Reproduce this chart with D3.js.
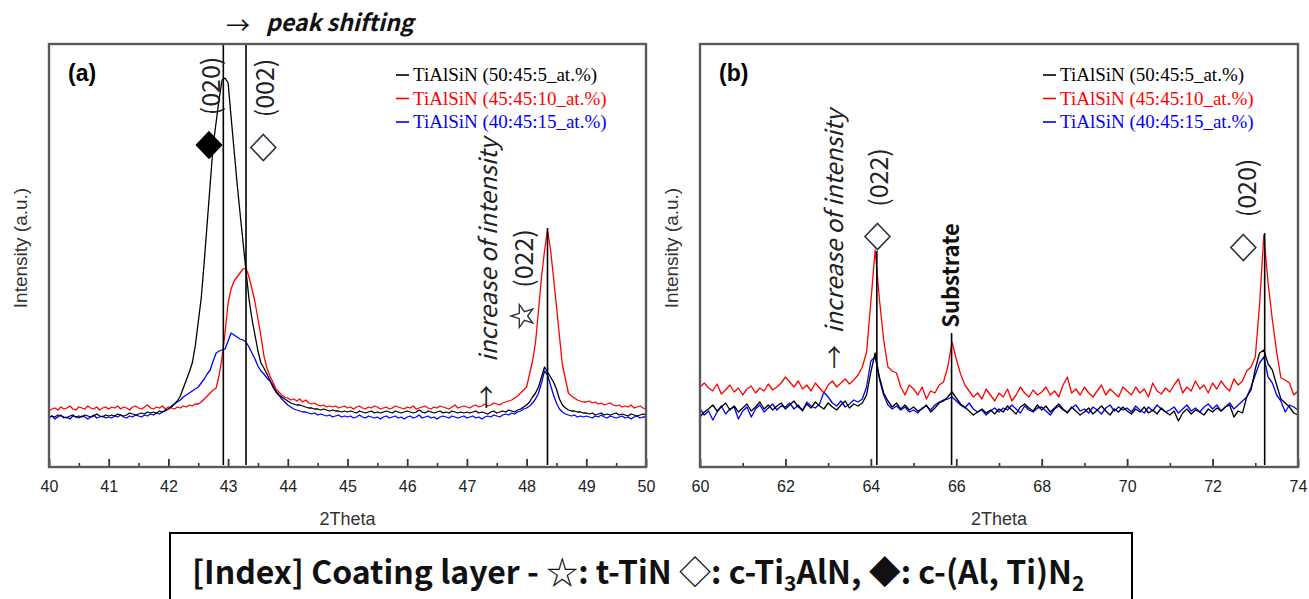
<!DOCTYPE html>
<html>
<head>
<meta charset="utf-8">
<script src="https://cdn.jsdelivr.net/npm/d3@7/dist/d3.min.js"></script>
<style>
  html, body { margin: 0; padding: 0; background: #fff; }
  svg { display: block; }
</style>
</head>
<body>
<svg id="chart" width="1309" height="599"></svg>
<script>
// XRD of TiAlSiN coatings: (a) 40–50° and (b) 60–74° 2θ, intensity in a.u.
const legendLabels = ["TiAlSiN (50:45:5_at.%)", "TiAlSiN (45:45:10_at.%)", "TiAlSiN (40:45:15_at.%)"];
const seriesColors = ["#000000", "#ff0000", "#0000ff"];

// (a) sampled every 0.05° from 40.00 to 50.00
const aStart = 40, aStep = 0.05;
const aBlack = [
  50,51,50,52,51,50,49,51,52,50,51,50,52,51,50,51,53,51,50,52,
  51,52,51,53,52,51,52,54,53,52,53,54,53,55,54,55,54,56,55,57,
  58,60,63,66,71,79,87,95,104,121,145,169,205,244,283,322,345,368,387,389,
  384,350,317,284,254,225,196,168,148,132,116,104,99,93,87,80,75,72,70,68,
  66,64,63,62,62,61,60,59,59,58,58,57,58,57,56,57,56,56,55,56,
  55,56,55,54,56,55,54,55,56,54,55,54,55,56,55,54,56,55,54,55,
  56,55,54,55,57,55,54,56,55,54,55,56,54,55,54,56,55,54,55,54,
  55,54,55,56,54,55,54,53,55,56,54,55,56,55,57,56,55,57,58,60,
  62,65,70,74,80,90,100,95,90,85,78,68,62,59,57,56,56,55,55,54,
  54,53,54,52,53,54,52,53,52,53,54,52,53,52,51,53,52,51,52,53,
  52
];
const aRed = [
  56,58,59,57,60,58,59,61,58,57,60,59,58,61,59,58,60,57,59,60,
  58,60,59,61,58,60,59,57,60,61,59,58,60,62,59,58,60,59,61,58,
  60,59,58,60,59,61,60,62,61,63,63,65,68,71,74,77,79,92,110,135,
  164,178,186,190,194,198,199,190,178,165,148,131,111,99,91,85,78,75,72,70,
  69,67,68,66,68,65,67,64,63,64,62,61,62,60,61,60,61,59,60,61,
  59,60,58,60,61,59,58,60,59,61,60,58,59,60,58,59,61,60,59,58,
  60,59,61,58,59,60,61,59,58,60,59,61,60,59,58,60,62,59,60,61,
  60,59,61,62,60,61,63,61,62,64,63,62,64,65,66,67,69,71,74,77,
  80,93,106,125,157,190,216,237,218,190,161,131,102,88,74,71,69,67,66,65,
  65,66,64,65,63,64,62,63,64,62,61,62,60,61,60,62,59,60,61,59,
  58
];
const aBlue = [
  49,51,48,50,52,49,50,48,51,50,49,51,50,48,50,52,49,50,51,49,
  50,49,51,50,52,50,49,51,50,52,51,50,52,51,53,52,54,53,55,56,
  58,61,63,65,67,70,72,74,76,78,80,84,88,93,97,106,114,116,117,118,
  126,134,132,130,128,127,125,120,114,108,101,96,93,89,86,82,76,72,68,65,
  62,60,58,57,56,55,55,54,53,54,52,53,52,51,52,50,51,52,50,51,
  50,51,49,50,52,50,49,51,50,49,50,48,50,51,49,50,51,49,50,48,
  50,51,49,50,52,49,50,51,49,50,48,50,51,50,49,51,50,49,50,51,
  49,50,51,49,50,48,50,51,50,52,51,50,52,53,52,54,53,55,56,58,
  59,61,64,68,74,84,96,92,82,72,64,58,55,53,52,51,52,50,51,50,
  51,50,49,51,50,52,50,49,51,50,49,50,51,49,50,48,50,51,49,50,
  50
];

// (b) sampled every 0.1° from 60.0 to 74.0
const bStart = 60, bStep = 0.1;
const bBlack = [
  50,55,58,62,56,60,64,57,61,55,
  59,63,56,60,65,58,62,57,61,64,
  58,62,66,60,57,63,59,65,61,58,
  64,60,57,62,66,59,63,61,64,72,
  95,114,90,74,66,60,64,58,62,57,
  60,56,58,62,55,59,64,66,70,75,
  69,63,60,56,52,55,58,54,57,53,
  58,55,61,57,53,60,63,59,56,62,
  57,61,55,59,63,58,54,60,56,52,
  55,59,53,57,61,56,52,58,55,60,
  56,53,58,55,60,54,57,53,59,55,
  52,56,46,54,58,53,57,55,52,58,
  55,59,56,60,62,50,56,54,70,77,
  98,114,117,103,97,82,68,64,60,54,
  52
];
const bRed = [
  80,84,79,76,83,73,77,82,75,79,
  72,78,81,74,79,76,83,77,80,84,
  90,85,80,86,78,82,76,84,79,74,
  82,86,80,84,88,83,87,92,100,115,
  165,217,168,127,100,96,94,80,72,82,
  78,72,80,68,76,74,82,85,100,125,
  108,93,82,76,70,74,68,78,72,66,
  74,70,78,66,72,80,74,70,77,72,
  75,80,72,76,70,82,90,74,78,72,
  80,74,70,76,82,72,78,74,70,80,
  76,72,80,74,78,70,84,76,73,79,
  75,82,88,74,80,76,86,78,82,74,
  84,78,86,80,76,88,82,86,96,100,
  110,162,232,184,147,115,89,87,84,72,
  76
];
const bBlue = [
  58,52,56,47,55,61,53,58,60,48,
  56,60,50,58,62,55,59,63,57,61,
  60,64,58,62,56,65,61,59,63,75,
  70,64,61,66,60,63,67,65,68,80,
  106,110,88,72,62,58,61,57,60,55,
  57,54,59,61,57,62,65,67,68,70,
  66,62,59,64,58,55,57,52,56,59,
  55,59,57,62,58,54,61,57,55,59,
  60,56,52,58,61,57,55,59,62,56,
  58,54,60,57,53,59,62,56,60,57,
  59,55,61,57,54,60,56,62,58,55,
  57,60,54,58,62,56,59,55,60,63,
  58,62,56,60,64,58,62,66,70,80,
  92,104,110,90,84,72,66,55,62,60,
  57
];

const aTicks = [40, 41, 42, 43, 44, 45, 46, 47, 48, 49, 50];
const aMinor = [40.5, 41.5, 42.5, 43.5, 44.5, 45.5, 46.5, 47.5, 48.5, 49.5];
const bTicks = [60, 62, 64, 66, 68, 70, 72, 74];
const bMinor = [61, 63, 65, 67, 69, 71, 73];

// peak marker lines: [2θ, top of line in a.u.]
const aRefLines = [[42.92, 423], [43.30, 423], [48.35, 239]];
const bRefLines = [[64.14, 216], [65.89, 134], [73.22, 234]];

// ---- layout ----
const TOP = 44, BOTTOM = 467;
const FS = "'Liberation Sans', Arial, sans-serif";
const FSERIF = "'Liberation Serif', 'Times New Roman', serif";
const FK = "'Noto Sans CJK KR', 'Noto Sans', sans-serif";
const INK = "#222";

const svg = d3.select("#chart");
const y = d3.scaleLinear().domain([0, 423]).range([BOTTOM, TOP]);

function rotText(g, x, yy, txt, o = {}) {
  return g.append("text")
    .attr("transform", `translate(${x},${yy}) rotate(-90)`)
    .attr("text-anchor", "middle").attr("dominant-baseline", "central")
    .attr("font-family", o.family || FK).attr("font-size", o.size || 25)
    .attr("font-weight", o.weight || 400).attr("font-style", o.style || "normal")
    .attr("fill", o.fill || INK)
    .text(txt);
}
function diamond(g, x, yy, filled) {
  g.append("path")
    .attr("d", "M0,-13 L12.5,0 L0,13 L-12.5,0 Z")
    .attr("transform", `translate(${x},${yy})`)
    .attr("fill", filled ? "#000" : "#fff")
    .attr("stroke", filled ? "#000" : "#2c3442").attr("stroke-width", 1.6)
    .attr("stroke-linejoin", "miter");
}

function drawPanel(p) {
  const x = d3.scaleLinear().domain(p.domain).range([p.left, p.right]);
  const g = svg.append("g");
  const clipId = "clip-" + p.tag;
  g.append("clipPath").attr("id", clipId).append("rect")
    .attr("x", p.left).attr("y", TOP).attr("width", p.right - p.left).attr("height", BOTTOM - TOP);

  const line = d3.line().x((d, i) => x(p.start + i * p.step)).y(d => y(d));
  const plot = g.append("g").attr("clip-path", `url(#${clipId})`);
  [2, 1, 0].forEach(k => {
    plot.append("path").attr("d", line(p.series[k]))
      .attr("fill", "none").attr("stroke", seriesColors[k])
      .attr("stroke-width", 1.3).attr("stroke-linejoin", "round");
  });

  p.refLines.forEach(([th, top]) => {
    g.append("line")
      .attr("x1", x(th)).attr("x2", x(th)).attr("y1", y(top)).attr("y2", y(2))
      .attr("stroke", "#000").attr("stroke-width", 1.6);
  });

  // axis ticks (inward), labels below
  const ax = g.append("g").attr("transform", `translate(0,${BOTTOM})`)
    .call(d3.axisBottom(x).tickValues(p.ticks).tickSize(-8).tickPadding(14));
  ax.select(".domain").remove();
  ax.selectAll(".tick line").attr("stroke", "#333").attr("stroke-width", 1.8);
  ax.selectAll(".tick text").attr("font-family", FS).attr("font-size", 16).attr("fill", INK);
  const mn = g.append("g").attr("transform", `translate(0,${BOTTOM})`)
    .call(d3.axisBottom(x).tickValues(p.minor).tickSize(-4).tickFormat(""));
  mn.select(".domain").remove();
  mn.selectAll(".tick line").attr("stroke", "#333").attr("stroke-width", 1.6);

  // frame
  g.append("rect")
    .attr("x", p.left).attr("y", TOP).attr("width", p.right - p.left).attr("height", BOTTOM - TOP)
    .attr("fill", "none").attr("stroke", "#5a5a5a").attr("stroke-width", 2.4);

  g.append("text")
    .attr("x", (p.left + p.right) / 2).attr("y", 525).attr("text-anchor", "middle")
    .attr("font-family", FS).attr("font-size", 18).attr("fill", "#333")
    .text("2Theta");
  rotText(g, p.left - 29, 248, "Intensity (a.u.)", { family: FS, size: 19, fill: "#333" });

  g.append("text")
    .attr("x", p.left + 19).attr("y", 81)
    .attr("font-family", FS).attr("font-size", 23).attr("font-weight", 700).attr("fill", "#000")
    .text(p.label);

  // legend
  legendLabels.forEach((s, k) => {
    const ly = 75 + k * 23.5;
    g.append("line").attr("x1", p.legendX).attr("x2", p.legendX + 13)
      .attr("y1", ly).attr("y2", ly).attr("stroke", seriesColors[k]).attr("stroke-width", 1.6);
    g.append("text").attr("x", p.legendX + 17).attr("y", ly + 6)
      .attr("font-family", FSERIF).attr("font-size", 19).attr("fill", seriesColors[k])
      .text(s);
  });

  p.notes(g, x);
}

drawPanel({
  tag: "a", label: "(a)", domain: [40, 50], left: 49, right: 646,
  start: aStart, step: aStep, series: [aBlack, aRed, aBlue],
  ticks: aTicks, minor: aMinor, refLines: aRefLines, legendX: 396,
  notes: (g, x) => {
    rotText(g, x(42.68), y(381), "(020)");
    rotText(g, x(43.585), y(379), "(002)");
    diamond(g, x(42.68), y(322), true);
    diamond(g, x(43.59), y(319.5), false);
    g.append("path").attr("d", d3.symbol(d3.symbolStar, 160)())
      .attr("transform", `translate(${x(47.94)},${y(151)}) rotate(-90)`)
      .attr("fill", "none").attr("stroke", "#2c3442").attr("stroke-width", 1.4);
    rotText(g, x(47.92), y(208.5), "(022)");
    rotText(g, x(47.33), y(217), "increase of intensity", { style: "italic", size: 24 });
    rotText(g, x(47.30), y(70), "→", { size: 24 });
  }
});

drawPanel({
  tag: "b", label: "(b)", domain: [60, 74], left: 700, right: 1298,
  start: bStart, step: bStep, series: [bBlack, bRed, bBlue],
  ticks: bTicks, minor: bMinor, refLines: bRefLines, legendX: 1043,
  notes: (g, x) => {
    rotText(g, x(63.11), y(245.5), "increase of intensity", { style: "italic", size: 24 });
    rotText(g, x(63.11), y(110), "→", { size: 24 });
    rotText(g, x(64.14), y(289.5), "(022)");
    diamond(g, x(64.155), y(230.5), false);
    rotText(g, x(65.83), y(191.5), "Substrate", { size: 22, weight: 700, fill: "#111" });
    rotText(g, x(72.76), y(279), "(020)");
    diamond(g, x(72.72), y(219.5), false);
  }
});

// top annotation
svg.append("text").attr("x", 238).attr("y", 23).attr("text-anchor", "middle")
  .attr("dominant-baseline", "central").attr("font-family", FK).attr("font-size", 24)
  .attr("fill", "#111").text("→");
svg.append("text").attr("x", 266).attr("y", 31)
  .attr("font-family", FK).attr("font-size", 23).attr("font-style", "italic").attr("font-weight", 700)
  .attr("fill", "#111").text("peak shifting");

// bottom index box
svg.append("rect").attr("x", 170).attr("y", 533).attr("width", 962).attr("height", 90)
  .attr("fill", "#fff").attr("stroke", "#000").attr("stroke-width", 2);
const idx = svg.append("text").attr("x", 192).attr("y", 584)
  .attr("font-family", FK).attr("font-size", 32).attr("font-weight", 700).attr("fill", "#111");
idx.append("tspan").text("[Index] Coating layer - ");
idx.append("tspan").attr("font-weight", 400).text("☆");
idx.append("tspan").text(": t-TiN ");
idx.append("tspan").attr("font-weight", 400).text("◇");
idx.append("tspan").text(": c-Ti");
idx.append("tspan").attr("font-size", 21).attr("dy", 7).text("3");
idx.append("tspan").attr("dy", -7).text("AlN, ");
idx.append("tspan").text("◆");
idx.append("tspan").text(": c-(Al, Ti)N");
idx.append("tspan").attr("font-size", 21).attr("dy", 7).text("2");
</script>
</body>
</html>
